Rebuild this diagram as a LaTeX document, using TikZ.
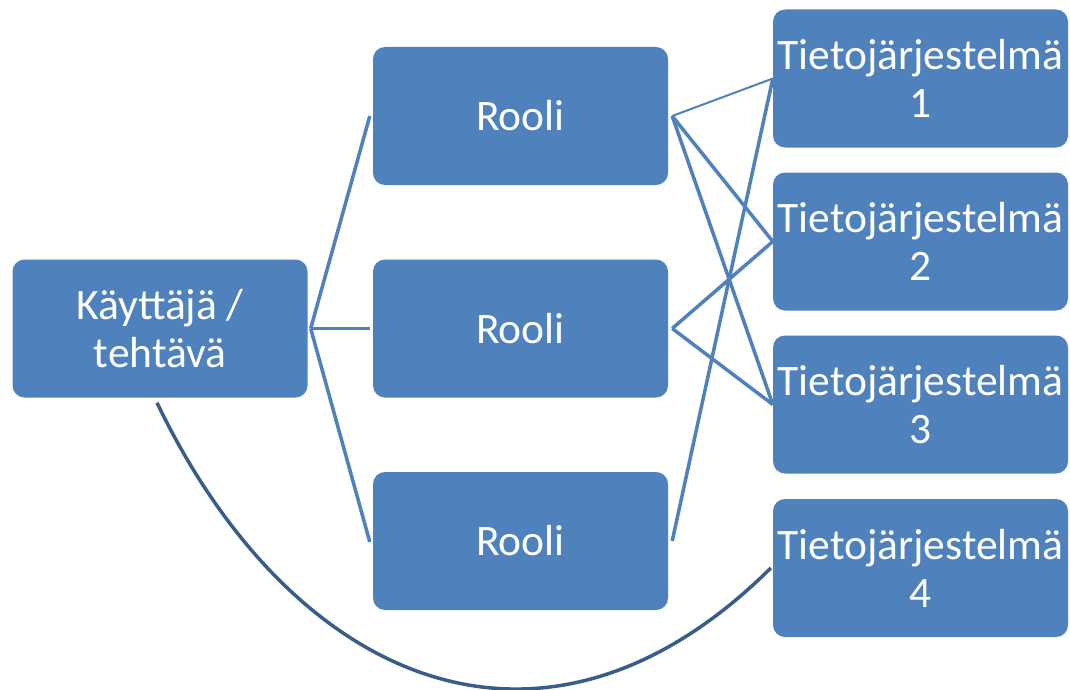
\documentclass[tikz,border=0pt]{standalone}
\usepackage{fontspec}
\setmainfont{Carlito}
\definecolor{boxblue}{HTML}{4F81BD}
\definecolor{curveblue}{HTML}{385D8A}
\begin{document}
\begin{tikzpicture}[x=1pt,y=-1pt,
  card/.style={rectangle, rounded corners=12pt, fill=boxblue, draw=none,
    minimum width=295pt, minimum height=138pt, inner sep=0pt,
    text=white, align=center, font=\fontsize{43.5}{48}\selectfont},
  link/.style={draw=boxblue, line width=3.5pt},
  thinlink/.style={draw=boxblue, line width=2pt},
  arc/.style={draw=curveblue, line width=3.5pt}]
\useasboundingbox (0,0) rectangle (1070,690);
% user / task
\node[card] (k) at (160,328.5) {Käyttäjä /\\tehtävä};
% roles
\node[card] (r1) at (520.5,116) {Rooli};
\node[card] (r2) at (520.5,328.5) {Rooli};
\node[card] (r3) at (520.5,541) {Rooli};
% information systems
\node[card] (t1) at (920.5,78.5) {Tietojärjestelmä\\1};
\node[card] (t2) at (920.5,241.5) {Tietojärjestelmä\\2};
\node[card] (t3) at (920.5,404.5) {Tietojärjestelmä\\3};
\node[card] (t4) at (920.5,568) {Tietojärjestelmä\\4};
% user to roles
\coordinate (kj) at ([xshift=3pt]k.east);
\draw[link] (kj) -- ([shift={(-3pt,0)}]r1.west);
\draw[link] (kj) -- ([xshift=-3pt]r2.west);
\draw[link] (kj) -- ([shift={(-3pt,-1pt)}]r3.west);
% roles to systems
\coordinate (r1j) at ([xshift=4pt]r1.east);
\coordinate (r2j) at ([xshift=4pt]r2.east);
\coordinate (r3j) at ([xshift=4pt]r3.east);
\draw[thinlink] (r1j) -- (t1.west);
\draw[link] (r1j) -- (t2.west);
\draw[link] (r1j) -- (t3.west);
\draw[link] (r2j) -- (t2.west);
\draw[link] (r2j) -- (t3.west);
\draw[link] (r3j) -- (t1.west);
% direct link from user to system 4
\draw[arc] ([shift={(-3pt,-5pt)}]k.south) .. controls (290,680) and (541,796) .. ([xshift=-2pt]t4.west);
\end{tikzpicture}
\end{document}
